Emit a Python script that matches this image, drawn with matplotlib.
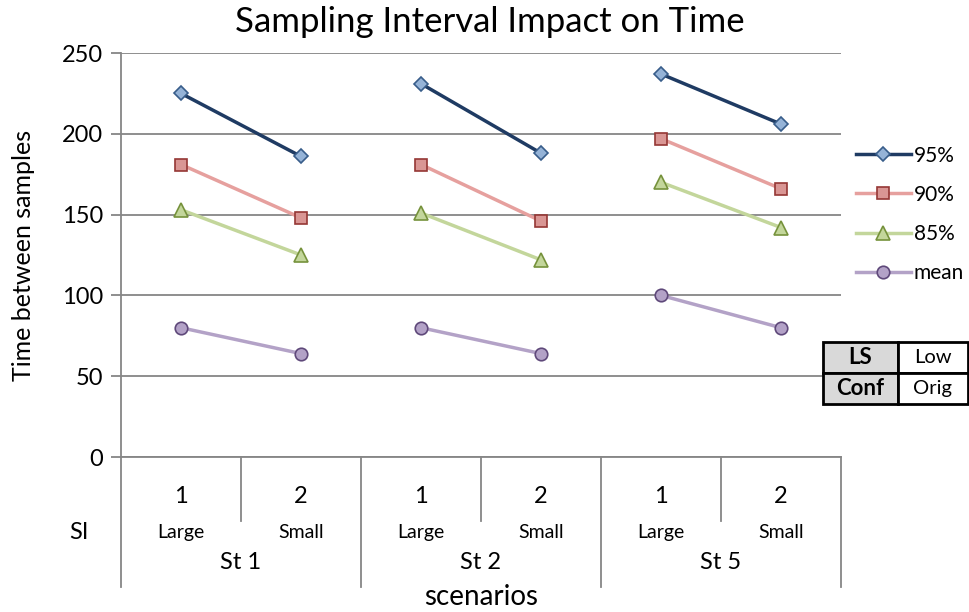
import numpy as np
import matplotlib
matplotlib.use('Agg')
import matplotlib.pyplot as plt
import matplotlib.transforms as mtransforms

plt.rcParams['font.family'] = ['Lato', 'DejaVu Sans']

# Data: two sampling intervals for each scenario
scenarios = ['St 1', 'St 2', 'St 5']
si_numbers = ['1', '2']
si_names = ['Large', 'Small']
series_names = ['95%', '90%', '85%', 'mean']
p95 = [225, 186, 231, 188, 237, 206]
p90 = [181, 148, 181, 146, 197, 166]
p85 = [153, 125, 151, 122, 170, 142]
mean = [80, 64, 80, 64, 100, 80]
table_rows = [['LS', 'Low'], ['Conf', 'Orig']]

styles = [
    dict(color='#1F3B63', marker='D', ms=7, mfc='#95B3D7', mec='#385D8A'),
    dict(color='#E6A09E', marker='s', ms=8, mfc='#D99694', mec='#953735'),
    dict(color='#C3D69B', marker='^', ms=9.5, mfc='#C3D69B', mec='#76923C'),
    dict(color='#B3A2C7', marker='o', ms=9, mfc='#B3A2C7', mec='#5F497A'),
]

fig = plt.figure(figsize=(9.7, 6.12), dpi=100)
ax = fig.add_axes([121 / 970, 1 - 457 / 612, 720 / 970, 404 / 612])

grid_c = '#868686'
x = np.arange(6)
n_si = len(si_numbers)
for vals, name, st in zip([p95, p90, p85, mean], series_names, styles):
    for g in range(len(scenarios)):
        sl = slice(g * n_si, (g + 1) * n_si)
        ax.plot(x[sl], vals[sl], color=st['color'], lw=2.5, marker=st['marker'],
                ms=st['ms'], mfc=st['mfc'], mec=st['mec'], mew=1.2,
                label=name if g == 0 else None, zorder=3)

ax.set_xlim(-0.5, 5.5)
ax.set_ylim(0, 250)
ax.set_yticks(np.arange(0, 251, 50))
ax.yaxis.grid(True, color=grid_c, lw=1.3)
ax.set_axisbelow(True)
for s in ['top', 'right']:
    ax.spines[s].set_visible(False)
for s in ['left', 'bottom']:
    ax.spines[s].set_color(grid_c)
    ax.spines[s].set_linewidth(1.3)
ax.tick_params(axis='y', length=7, color=grid_c, width=1.3, labelsize=17, pad=6)
ax.set_xticks([])
ax.set_ylabel('Time between samples', fontsize=18, labelpad=19)
fig.text(490 / 970, 1 - 22 / 612, 'Sampling Interval Impact on Time',
         ha='center', va='center', fontsize=25)

# Multi-level category axis
trans = mtransforms.blended_transform_factory(ax.transData, ax.transAxes)
for i in range(6):
    ax.text(x[i], -0.099, si_numbers[i % n_si], transform=trans, ha='center',
            va='center', fontsize=17)
    ax.text(x[i], -0.186, si_names[i % n_si], transform=trans, ha='center',
            va='center', fontsize=14)
for g, name in enumerate(scenarios):
    ax.text(g * n_si + 0.5, -0.262, name, transform=trans, ha='center',
            va='center', fontsize=17)
    # short separator between SI values inside a scenario
    ax.plot([g * n_si + 0.5] * 2, [0, -0.158], transform=trans, color=grid_c,
            lw=1.3, clip_on=False)
for b in np.arange(len(scenarios) + 1) * n_si - 0.5:
    ax.plot([b, b], [0, -0.322], transform=trans, color=grid_c, lw=1.3,
            clip_on=False)
ax.text(-0.85, -0.186, 'SI', transform=trans, ha='center', va='center',
        fontsize=17)
ax.text(2.5, -0.347, 'scenarios', transform=trans, ha='center', va='center',
        fontsize=20)

ax.legend(loc='upper left', bbox_to_anchor=(1.0, 0.807), frameon=False,
          fontsize=15, handlelength=2.65, labelspacing=0.92, handletextpad=0.15,
          borderaxespad=0.3)

# Settings table
tax = fig.add_axes([823 / 970, 1 - 404 / 612, 145 / 970, 62 / 612])
tax.axis('off')
tbl = tax.table(cellText=table_rows, bbox=[0, 0, 1, 1], cellLoc='center',
                colWidths=[75, 70])
tbl.auto_set_font_size(False)
for (r, c), cell in tbl.get_celld().items():
    cell.set_linewidth(2.0)
    cell.set_edgecolor('black')
    if c == 0:
        cell.set_facecolor('#D9D9D9')
        cell.get_text().set_fontweight('bold')
        cell.get_text().set_fontsize(16)
    else:
        cell.get_text().set_fontsize(14.5)

fig.savefig('out.png', dpi=100)
